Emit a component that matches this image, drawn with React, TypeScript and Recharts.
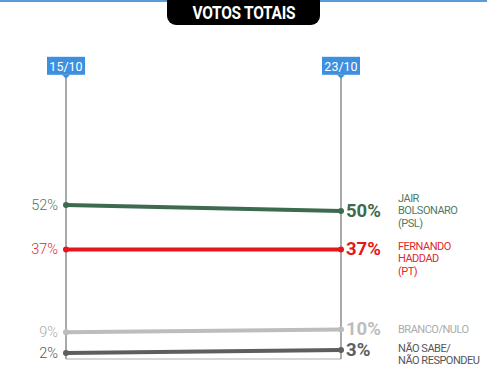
import React from "react";
import { LineChart, Line, XAxis, YAxis, ReferenceLine } from "recharts";

// survey dates (first and last poll)
const dates = ["15/10", "23/10"];

// vote share in %, one value per date
const bolsonaro = [52, 50];
const haddad = [37, 37];
const branco = [9, 10];
const naoSabe = [2, 3];

// names printed to the right of each line
const bolsonaroName = ["JAIR", "BOLSONARO", "(PSL)"];
const haddadName = ["FERNANDO", "HADDAD", "(PT)"];
const brancoName = ["BRANCO/NULO"];
const naoSabeName = ["NÃO SABE/", "NÃO RESPONDEU"];

const data = dates.map((date, i) => ({
  date,
  bolsonaro: bolsonaro[i],
  haddad: haddad[i],
  branco: branco[i],
  naoSabe: naoSabe[i],
}));

const series = [
  { key: "bolsonaro", name: bolsonaroName, color: "#3e6a4f", text: "#4f7a60", shift: -13 },
  { key: "haddad", name: haddadName, color: "#e5161d", text: "#e02a2a", shift: -3 },
  { key: "branco", name: brancoName, color: "#bdbdbd", text: "#ababab", shift: 0 },
  { key: "naoSabe", name: naoSabeName, color: "#5e5e5e", text: "#555555", shift: -2 },
];

const FONT = "Roboto, 'Noto Sans', sans-serif";

function PointLabel(props: any) {
  const { x, y, index, value, s } = props;
  if (x == null || y == null) return null;
  if (index === 0) {
    return (
      <text x={x - 8} y={y} textAnchor="end" dominantBaseline="central" fontSize={14.5} fontWeight={300} fill={s.text} fontFamily={FONT}>
        {value}%
      </text>
    );
  }
  return (
    <g>
      <text x={x + 5} y={y} dominantBaseline="central" fontSize={18.5} fontWeight={700} fill={s.color} fontFamily={FONT}>
        {value}%
      </text>
      {s.name.map((line: string, i: number) => (
        <text
          key={line}
          x={x + 57}
          y={y + s.shift + i * 12.5}
          dominantBaseline="central"
          fontSize={11}
          letterSpacing={-0.5}
          fill={s.text}
          fontFamily={FONT}
        >
          {line}
        </text>
      ))}
    </g>
  );
}

function DateTag(props: any) {
  const { viewBox, text } = props;
  if (!viewBox) return null;
  const cx = viewBox.x;
  const top = viewBox.y;
  const w = 38;
  const h = 18;
  const by = top - 21;
  return (
    <g>
      <rect x={cx - w / 2} y={by} width={w} height={h} fill="#3d8fe0" />
      <polygon points={`${cx - 4},${by + h} ${cx + 4},${by + h} ${cx},${by + h + 4}`} fill="#3d8fe0" />
      <text x={cx} y={by + h / 2 + 1} textAnchor="middle" dominantBaseline="central" fontSize={12.5} fill="#ffffff" fontFamily={FONT}>
        {text}
      </text>
    </g>
  );
}

export default function App() {
  return (
    <div style={{ position: "absolute", left: 0, top: 0, width: 487, height: 376, background: "#fff", overflow: "hidden" }}>
      <div style={{ position: "absolute", left: 0, top: 0, width: 487, height: 2, background: "#5b9bdc" }} />
      <div
        style={{
          position: "absolute",
          left: 167,
          top: 0,
          width: 153,
          height: 25,
          background: "#000",
          borderRadius: "0 0 9px 9px",
          color: "#fff",
          fontFamily: FONT,
          fontWeight: 700,
          fontSize: 18,
          lineHeight: "25px",
          textAlign: "center",
        }}
      >
        <span style={{ display: "inline-block", transform: "scaleX(0.86)", letterSpacing: -0.3 }}>VOTOS TOTAIS</span>
      </div>
      <LineChart width={487} height={376} data={data} margin={{ top: 63, right: 146, bottom: 17, left: 66 }}>
        <XAxis dataKey="date" hide padding={{ left: 0, right: 0 }} />
        <YAxis hide domain={[0, 100]} />
        <ReferenceLine y={0} stroke="#c8c8c8" strokeWidth={1.5} />
        {dates.map((d) => (
          <ReferenceLine
            key={d}
            segment={[
              { x: d, y: 0 },
              { x: d, y: 95 },
            ]}
            stroke="#8c8c8c"
            strokeWidth={1.5}
            label={(p: any) => <DateTag {...p} text={d} />}
          />
        ))}
        {series.map((s) => (
          <Line
            key={s.key}
            dataKey={s.key}
            stroke={s.color}
            strokeWidth={4}
            dot={{ r: 3, fill: s.color, stroke: s.color, strokeWidth: 0 }}
            activeDot={false}
            isAnimationActive={false}
            label={(p: any) => <PointLabel {...p} s={s} />}
          />
        ))}
      </LineChart>
    </div>
  );
}
